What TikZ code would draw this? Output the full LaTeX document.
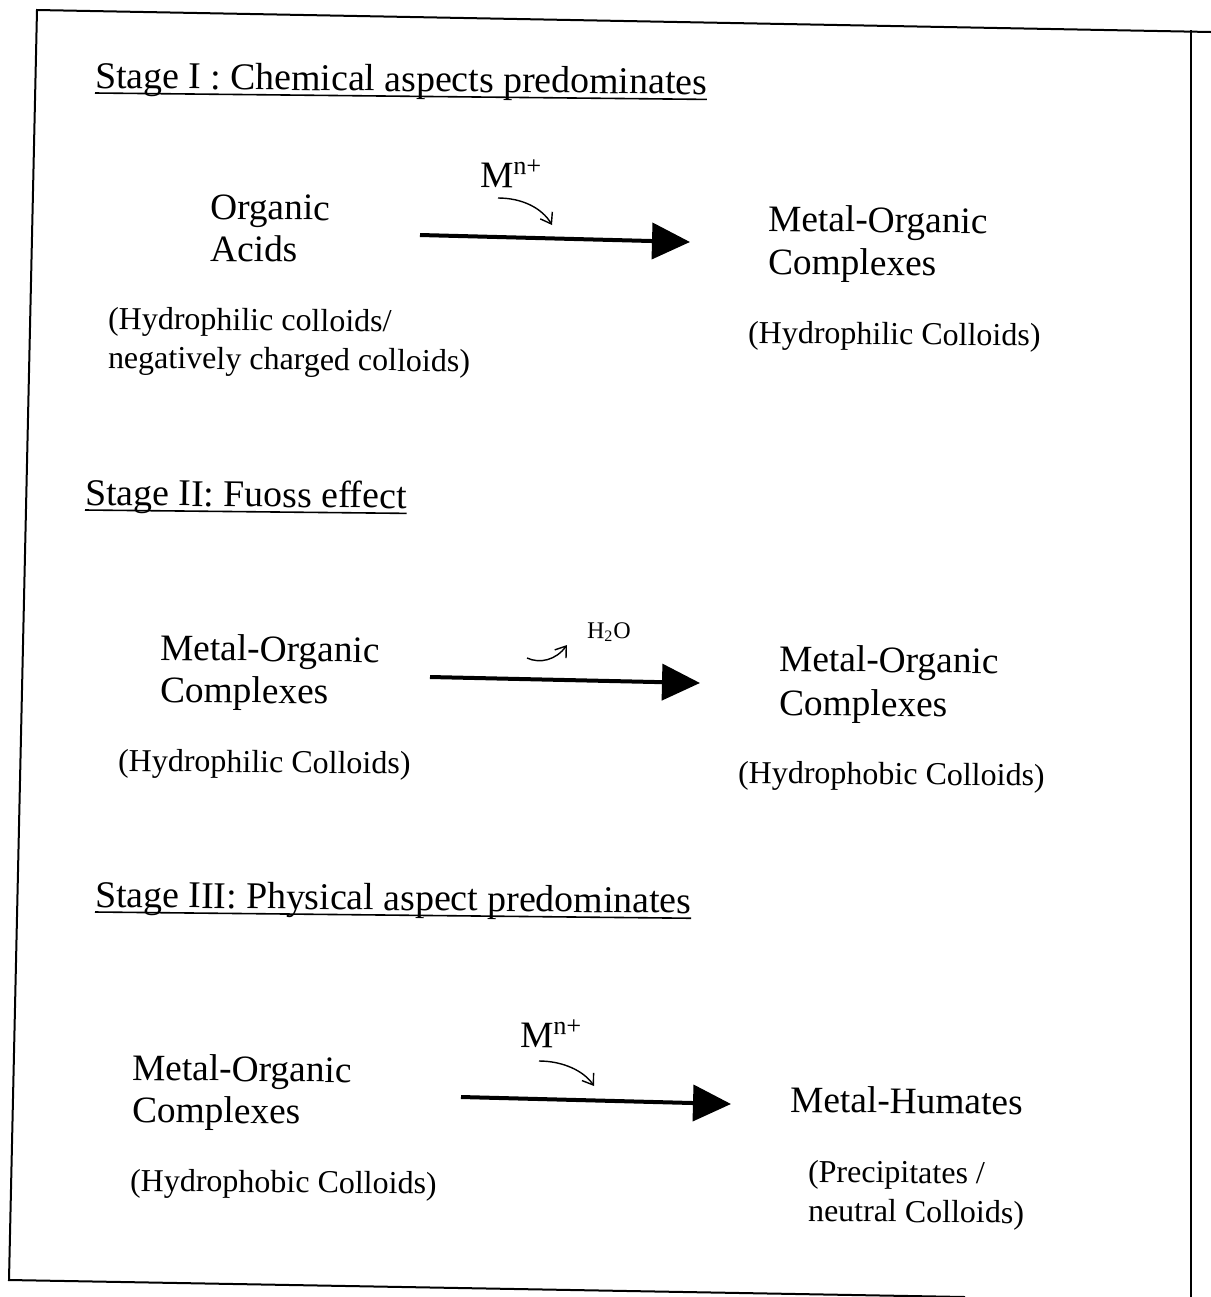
\documentclass[tikz,border=0pt]{standalone}
\usepackage{fontspec}
\setmainfont{Liberation Serif}
\usetikzlibrary{arrows.meta,calc}
\begin{document}
\begin{tikzpicture}[x=0.5pt,y=-0.5pt,
  every node/.style={inner sep=0pt,outer sep=0pt,anchor=base west,rotate=-0.6},
  head/.style={font=\fontsize{18.9pt}{21pt}\selectfont},
  main/.style={font=\fontsize{18.7pt}{21pt}\selectfont},
  sub/.style={font=\fontsize{16pt}{19pt}\selectfont},
  small/.style={font=\fontsize{12pt}{14pt}\selectfont},
  frame/.style={line width=1pt},
  uline/.style={line width=0.8pt},
  bigarrow/.style={line width=2pt,-{Triangle[length=19pt,width=18pt]}},
  curvearrow/.style={line width=0.7pt,-{Straight Barb[length=5pt,width=7pt]}}]
\useasboundingbox (0,0) rectangle (1211,1297);
% frame
\coordinate (ftl) at (37,10);
\coordinate (ftr) at (1211,32);
\coordinate (fbl) at (9,1280);
\coordinate (fbr) at (965,1297);
\coordinate (frt) at (1191,30);
\coordinate (frb) at (1191,1297);
\draw[frame] (ftr) -- (ftl) -- (fbl) -- (fbr);
\draw[frame] (frt) -- (frb);

% Stage I
\node[head] (h1) at (95,88) {Stage I : Chemical aspects predominates};
\draw[uline] ($(h1.base west)+(0,5)$) -- ($(h1.base east)+(0,5)$);
\node[main] (a1) at (210,219) {Organic};
\node[main] (a2) at (210,261) {Acids};
\node[sub] (a3) at (108,329) {(Hydrophilic colloids/};
\node[sub] (a4) at (108,368) {negatively charged colloids)};
\node[main] (m1) at (480,187) {M\textsuperscript{n+}};
\node[main] (b1) at (768,231) {Metal-Organic};
\node[main] (b2) at (768,274) {Complexes};
\node[sub] (b3) at (748,343) {(Hydrophilic Colloids)};
\coordinate (s1) at (420,235);
\coordinate (t1) at (690,242);
\draw[bigarrow] (s1) -- (t1);
\coordinate (cs1) at (498,198);
\coordinate (ct1) at (552,225);
\draw[curvearrow] (cs1) .. controls (522,198) and (542,208) .. (ct1);

% Stage II
\node[head] (h2) at (85,505) {Stage II: Fuoss effect};
\draw[uline] ($(h2.base west)+(0,5)$) -- ($(h2.base east)+(0,5)$);
\node[main] (c1) at (160,660) {Metal-Organic};
\node[main] (c2) at (160,702) {Complexes};
\node[sub] (c3) at (118,771) {(Hydrophilic Colloids)};
\node[small] (w) at (587,638) {H\textsubscript{2}O};
\node[main] (d1) at (779,671) {Metal-Organic};
\node[main] (d2) at (779,715) {Complexes};
\node[sub] (d3) at (738,783) {(Hydrophobic Colloids)};
\coordinate (s2) at (430,677);
\coordinate (t2) at (700,683);
\draw[bigarrow] (s2) -- (t2);
\coordinate (cs2) at (527,658);
\coordinate (ct2) at (567,645);
\draw[curvearrow] (cs2) .. controls (540,664) and (556,660) .. (ct2);

% Stage III
\node[head] (h3) at (95,907) {Stage III: Physical aspect predominates};
\draw[uline] ($(h3.base west)+(0,5)$) -- ($(h3.base east)+(0,5)$);
\node[main] (e1) at (132,1080) {Metal-Organic};
\node[main] (e2) at (132,1122) {Complexes};
\node[sub] (e3) at (130,1191) {(Hydrophobic Colloids)};
\node[main] (m3) at (520,1047) {M\textsuperscript{n+}};
\node[main] (f1) at (790,1112) {Metal-Humates};
\node[sub] (f2) at (808,1182) {(Precipitates /};
\node[sub] (f3) at (808,1221) {neutral Colloids)};
\coordinate (s3) at (461,1097);
\coordinate (t3) at (731,1104);
\draw[bigarrow] (s3) -- (t3);
\coordinate (cs3) at (539,1061);
\coordinate (ct3) at (594,1086);
\draw[curvearrow] (cs3) .. controls (563,1061) and (584,1071) .. (ct3);
\end{tikzpicture}
\end{document}
